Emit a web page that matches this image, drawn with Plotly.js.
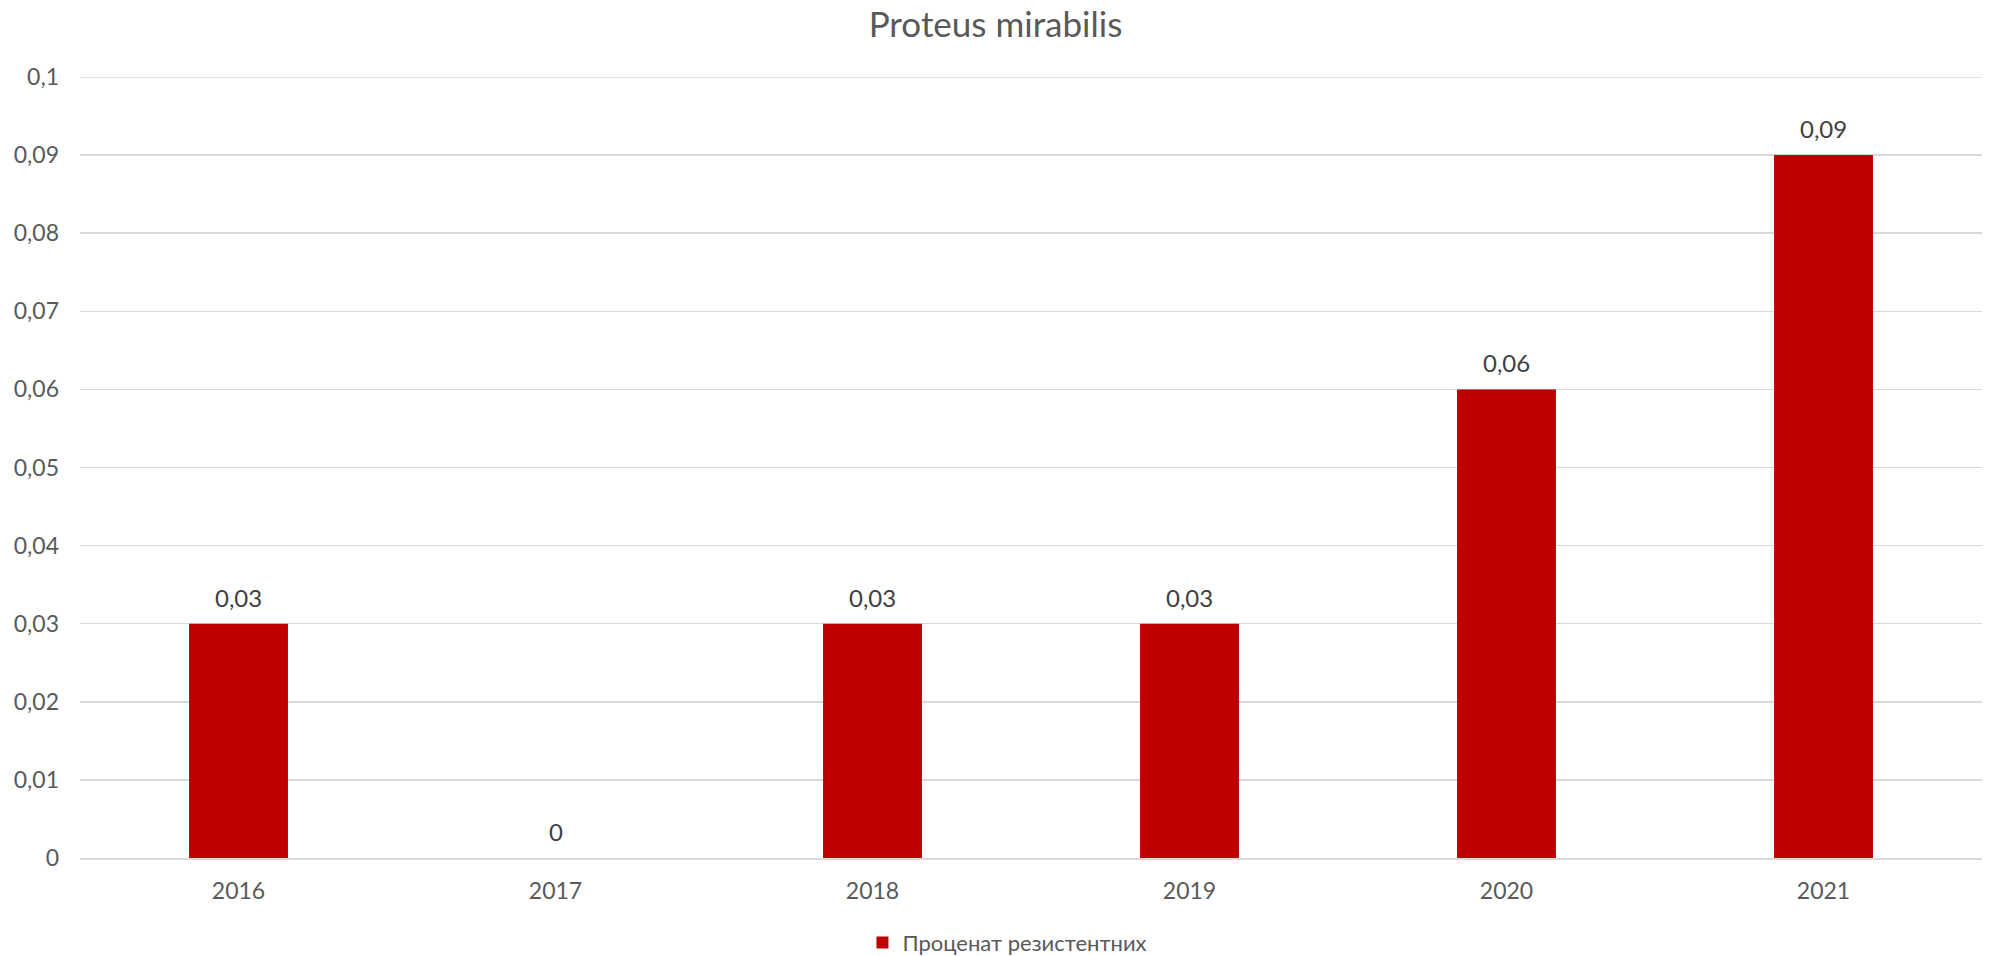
<!DOCTYPE html>
<html>
<head>
<meta charset="utf-8">
<script src="https://cdn.plot.ly/plotly-3.0.1.min.js"></script>
<style>
  html, body { margin: 0; padding: 0; background: #fff; }
  #chart { width: 1991px; height: 956px; }
</style>
</head>
<body>
<div id="chart"></div>
<script>
// Share of resistant Proteus mirabilis isolates per year
const years = ['2016', '2017', '2018', '2019', '2020', '2021'];
const resistantShare = [0.03, 0, 0.03, 0.03, 0.06, 0.09];
const seriesName = 'Проценат резистентних';
const yTickVals = [0, 0.01, 0.02, 0.03, 0.04, 0.05, 0.06, 0.07, 0.08, 0.09, 0.1];
const yTickText = ['0', '0,01', '0,02', '0,03', '0,04', '0,05', '0,06', '0,07', '0,08', '0,09', '0,1'];

const FONT = 'Lato, "Open Sans", sans-serif';
const Y_MAX = 0.1;

const trace = {
  type: 'bar',
  x: years,
  y: resistantShare,
  name: seriesName,
  marker: { color: '#C00000' },
  hoverinfo: 'x+y'
};

// value labels above each bar, with decimal comma
// (x is the category index, so numeric-looking year names are not read as numbers)
const valueLabels = years.map((yr, i) => ({
  x: i,
  y: resistantShare[i],
  xref: 'x',
  yref: 'y',
  text: String(resistantShare[i]).replace('.', ','),
  showarrow: false,
  xanchor: 'center',
  yanchor: 'bottom',
  yshift: 10,
  font: { family: FONT, size: 24, color: '#404040' }
}));

const layout = {
  width: 1991,
  height: 956,
  margin: { l: 80, r: 9, t: 77, b: 98 },
  paper_bgcolor: '#ffffff',
  plot_bgcolor: '#ffffff',
  separators: ', ',
  bargap: 0.688,
  title: {
    text: 'Proteus mirabilis',
    font: { family: FONT, size: 35, color: '#595959' },
    x: 0.5,
    xanchor: 'center',
    y: 0.974,
    yanchor: 'middle'
  },
  xaxis: {
    type: 'category',
    categoryorder: 'array',
    categoryarray: years,
    range: [-0.5, years.length - 0.5],
    showgrid: false,
    showline: true,
    linecolor: '#D9D9D9',
    linewidth: 1.5,
    ticks: '',
    ticklabelstandoff: 12,
    tickfont: { family: FONT, size: 23, color: '#595959' }
  },
  yaxis: {
    range: [0, Y_MAX],
    tickvals: yTickVals,
    ticktext: yTickText,
    showgrid: true,
    gridcolor: '#D9D9D9',
    gridwidth: 1.5,
    zeroline: false,
    showline: false,
    ticks: '',
    ticklabelstandoff: 20,
    tickfont: { family: FONT, size: 23, color: '#595959' }
  },
  // top gridline at the end of the value range
  shapes: [{
    type: 'line',
    xref: 'paper',
    yref: 'y',
    x0: 0,
    x1: 1,
    y0: Y_MAX,
    y1: Y_MAX,
    line: { color: '#D9D9D9', width: 1.5 },
    layer: 'below'
  }],
  annotations: valueLabels,
  showlegend: true,
  legend: {
    orientation: 'h',
    xref: 'container',
    yref: 'container',
    x: 0.506,
    xanchor: 'center',
    y: 0.014,
    yanchor: 'middle',
    font: { family: FONT, size: 22, color: '#595959' },
    itemwidth: 30
  }
};

Plotly.newPlot('chart', [trace], layout, { displayModeBar: false, staticPlot: true });
</script>
</body>
</html>
